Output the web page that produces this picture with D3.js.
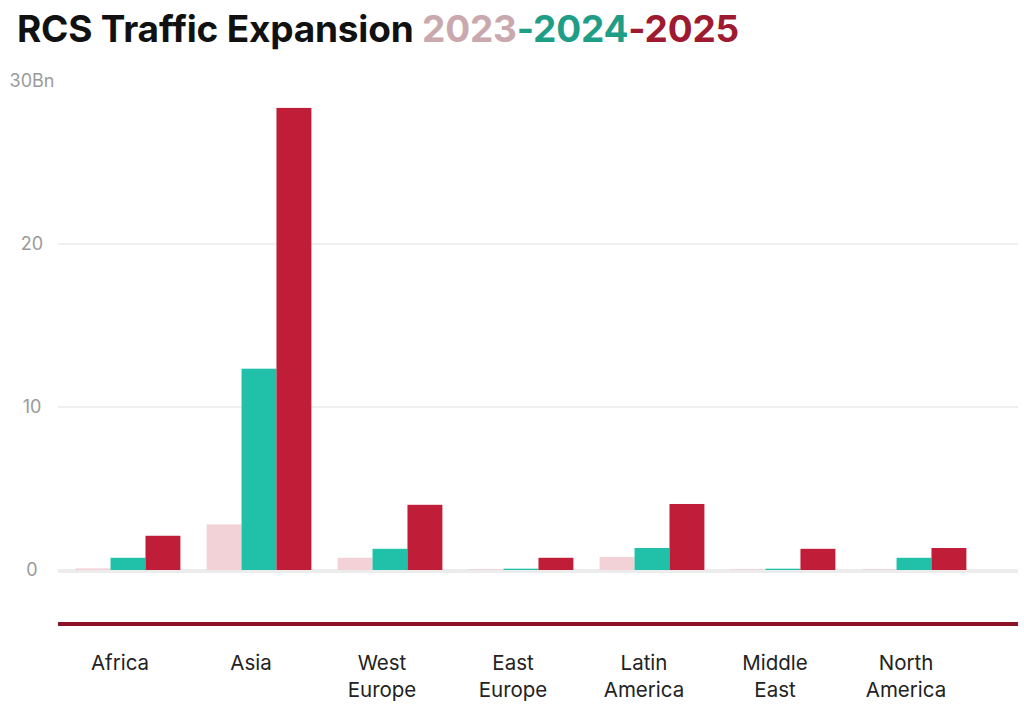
<!DOCTYPE html>
<html>
<head>
<meta charset="utf-8">
<script src="https://cdn.jsdelivr.net/npm/d3@7"></script>
<style>
  body { margin: 0; background: #fff; }
  svg { display: block; font-family: Inter, "Noto Sans", sans-serif; }
</style>
</head>
<body>
<div id="chart"></div>
<script>
// data (billions of messages)
const regions = ['Africa', 'Asia', 'West Europe', 'East Europe', 'Latin America', 'Middle East', 'North America'];
const years = ['2023', '2024', '2025'];
const v2023 = [0.1, 2.8, 0.75, 0.05, 0.8, 0.05, 0.05];
const v2024 = [0.75, 12.35, 1.3, 0.08, 1.35, 0.08, 0.75];
const v2025 = [2.1, 28.35, 4.0, 0.75, 4.05, 1.3, 1.35];
const yTicks = [0, 10, 20, 30];

const barColors = ['#f2d1d7', '#21c0a8', '#c01e38'];
const titleColors = ['#c9a9ae', '#1e9e86', '#9e1a30'];

const width = 1024, height = 710;
const margin = {left: 58, right: 6};
const svg = d3.select('#chart').append('svg').attr('width', width).attr('height', height);

// title
let title = svg.append('text').attr('x', 17).attr('y', 42)
  .attr('font-size', 37).attr('font-weight', 700).attr('letter-spacing', -0.2);
title.append('tspan').attr('fill', '#111').text('RCS Traffic Expansion ');
years.forEach((y, i) => {
  if (i > 0) title.append('tspan').attr('fill', titleColors[i]).text('-');
  title.append('tspan').attr('fill', titleColors[i]).text(y);
});

const y = d3.scaleLinear().domain([0, 30]).range([570, 81]);
const x0 = d3.scaleBand().domain(regions).range([62.5, 979.5]).paddingInner(0.2).paddingOuter(0.1);
const x1 = d3.scaleBand().domain(years).range([0, x0.bandwidth()]);

// grid
svg.append('g').selectAll('line').data(yTicks.filter(t => t > 0 && t < 30)).enter().append('line')
  .attr('x1', margin.left).attr('x2', width - margin.right)
  .attr('y1', d => y(d)).attr('y2', d => y(d))
  .attr('stroke', '#efefef').attr('stroke-width', 2);

svg.append('line')
  .attr('x1', margin.left).attr('x2', width - margin.right)
  .attr('y1', y(0) + 1).attr('y2', y(0) + 1)
  .attr('stroke', '#ececec').attr('stroke-width', 4);

// y labels
svg.append('g').selectAll('text').data(yTicks).enter().append('text')
  .attr('x', 32).attr('y', d => y(d)).attr('dy', '0.35em')
  .attr('text-anchor', 'middle').attr('font-size', 18).attr('fill', '#9a9a9a')
  .text(d => d === 30 ? '30Bn' : d);

// bars
const rows = regions.map((r, i) => ({region: r, vals: [v2023[i], v2024[i], v2025[i]]}));
const groups = svg.append('g').selectAll('g').data(rows).enter().append('g')
  .attr('transform', d => 'translate(' + x0(d.region) + ',0)');
groups.selectAll('rect').data(d => d.vals.map((v, i) => ({year: years[i], v: v, i: i}))).enter().append('rect')
  .attr('x', d => x1(d.year)).attr('width', x1.bandwidth())
  .attr('y', d => y(d.v)).attr('height', d => y(0) - y(d.v))
  .attr('fill', d => barColors[d.i]);

// dark axis rule
svg.append('line')
  .attr('x1', margin.left).attr('x2', width - margin.right)
  .attr('y1', 624).attr('y2', 624)
  .attr('stroke', '#8b1428').attr('stroke-width', 4);

// category labels
const labelX = d => x0(d) + x0.bandwidth() / 2 - 8;
const lab = svg.append('g').selectAll('text').data(regions).enter().append('text')
  .attr('x', labelX).attr('y', 670)
  .attr('text-anchor', 'middle').attr('font-size', 20.5).attr('fill', '#222');
lab.each(function(d) {
  const t = d3.select(this);
  d.split(' ').forEach((w, i) => {
    t.append('tspan').attr('x', labelX(d)).attr('dy', i === 0 ? 0 : 27).text(w);
  });
});
</script>
</body>
</html>
